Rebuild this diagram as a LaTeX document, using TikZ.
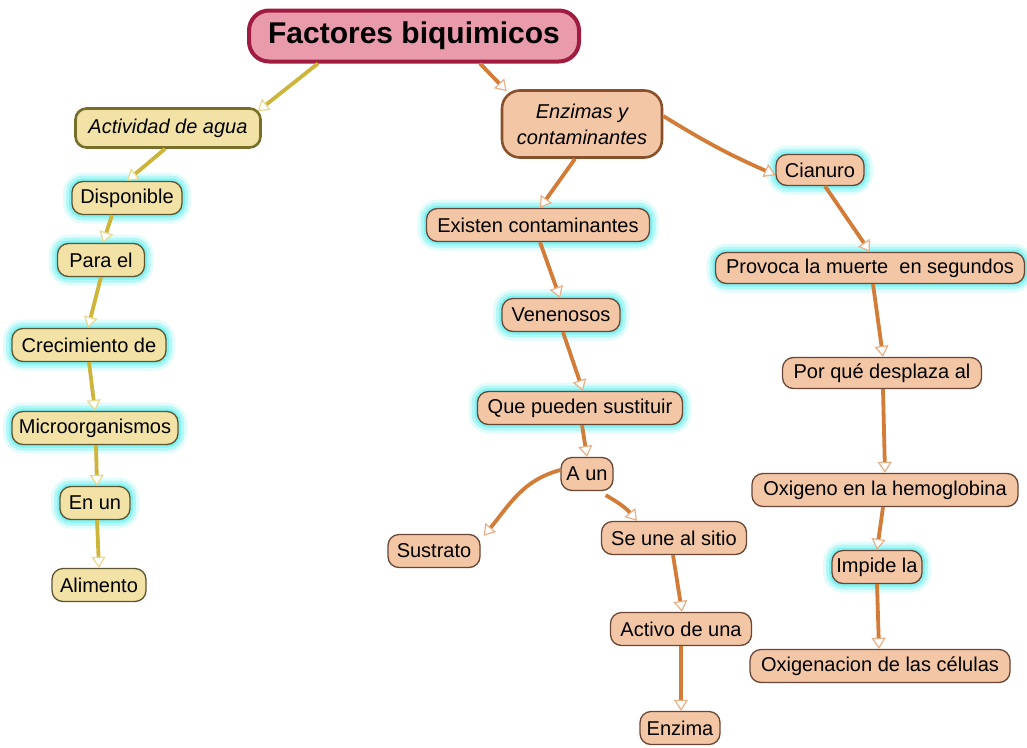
\documentclass[tikz,border=0pt]{standalone}
\usepackage{fontspec}
\setmainfont{Liberation Sans}
\usetikzlibrary{arrows.meta}
\definecolor{yfill}{HTML}{F2E2A6}
\definecolor{ydraw}{HTML}{5E5530}
\definecolor{ofill}{HTML}{F3C7A5}
\definecolor{odraw}{HTML}{6A4636}
\definecolor{tfill}{HTML}{E99AAB}
\definecolor{tdraw}{HTML}{9E1C40}
\definecolor{yline}{HTML}{CDB53A}
\definecolor{oline}{HTML}{D27C38}
\definecolor{ytip}{HTML}{E8D890}
\definecolor{otip}{HTML}{E8B088}
\definecolor{glowc}{HTML}{6FF0F0}
\tikzset{
  box/.style={draw, rounded corners=11pt, minimum height=33pt, inner xsep=4pt, inner ysep=2pt,
    font=\fontsize{20}{22}\selectfont, line width=1.3pt, align=center},
  ybox/.style={box, fill=yfill, draw=ydraw},
  obox/.style={box, fill=ofill, draw=odraw},
  glow/.style={preaction={draw=glowc, line width=18pt, opacity=0.2},
               preaction={draw=glowc, line width=12pt, opacity=0.4},
               preaction={draw=glowc, line width=6pt, opacity=0.7}},
  yedge/.style={draw=yline, line width=3.8pt, -{Triangle[open, length=11pt, width=14pt, line width=1.2pt, color=ytip, fill=white]}},
  oedge/.style={draw=oline, line width=3.8pt, -{Triangle[open, length=11pt, width=14pt, line width=1.2pt, color=otip, fill=white]}},
}
\begin{document}
\begin{tikzpicture}[x=1pt,y=-1pt]
\useasboundingbox[fill=white] (0,0) rectangle (1027,747);
% title
\node[draw=tdraw, fill=tfill, line width=4pt, rounded corners=20pt, minimum width=330pt, minimum height=51pt,
      font=\fontsize{30}{34}\selectfont\bfseries] (t) at (414,36) {Factores biquimicos};
% left branch
\node[ybox, line width=2.6pt, draw=ydraw!85!yellow, minimum width=185pt, minimum height=39pt, font=\fontsize{20}{22}\selectfont\itshape] (act) at (168,128) {Actividad de agua};
\node[ybox, glow, minimum width=110pt] (disp) at (127,198) {Disponible};
\node[ybox, glow, minimum width=87pt] (para) at (101,260) {Para el};
\node[ybox, glow, minimum width=154pt] (crec) at (89,345) {Crecimiento de};
\node[ybox, glow, minimum width=166pt] (micro) at (95,428) {Microorganismos};
\node[ybox, glow, minimum width=70pt] (enun) at (95,503) {En un};
\node[ybox, minimum width=94pt] (alim) at (99,585) {Alimento};
% middle branch
\node[obox, line width=2.6pt, draw=odraw!80!orange, minimum width=160pt, minimum height=67pt, rounded corners=18pt,
      font=\fontsize{20}{26}\selectfont\itshape] (enz) at (582,124) {Enzimas y\\contaminantes};
\node[obox, glow, minimum width=223pt] (exist) at (538,225) {Existen contaminantes};
\node[obox, glow, minimum width=118pt] (ven) at (561,315) {Venenosos};
\node[obox, glow, minimum width=205pt] (que) at (580,408) {Que pueden sustituir};
\node[obox, minimum width=52pt] (aun) at (587,474) {A un};
\node[obox, minimum width=92pt] (sust) at (434,551) {Sustrato};
\node[obox, minimum width=145pt] (seune) at (674,538) {Se une al sitio};
\node[obox, minimum width=141pt] (activo) at (681,629) {Activo de una};
\node[obox, minimum width=80pt] (enzima) at (680,728) {Enzima};
% right branch
\node[obox, glow, minimum width=88pt, minimum height=31pt] (cian) at (820,170) {Cianuro};
\node[obox, glow, minimum width=309pt, minimum height=31pt] (prov) at (870,268) {Provoca la muerte\ \ en segundos};
\node[obox, minimum width=199pt, minimum height=31pt] (por) at (882,373) {Por qué desplaza al};
\node[obox, minimum width=266pt] (oxi) at (885,490) {Oxigeno en la hemoglobina};
\node[obox, glow, minimum width=90pt] (imp) at (877,567) {Impide la};
\node[obox, minimum width=260pt] (oxig) at (880,666) {Oxigenacion de las células};
% connectors left
\draw[yedge] ([xshift=-96pt]t.south) -- ([xshift=-4pt,yshift=-4pt]act.north east);
\draw[yedge] ([xshift=-3pt]act.south) -- (disp.north);
\draw[yedge] ([xshift=-15pt]disp.south) -- ([xshift=2pt]para.north);
\draw[yedge] (para.south) -- ([xshift=-1pt]crec.north);
\draw[yedge] (crec.south) -- (micro.north);
\draw[yedge] ([xshift=1pt]micro.south) -- ([xshift=2pt]enun.north);
\draw[yedge] ([xshift=2pt]enun.south) -- (alim.north);
% connectors middle
\draw[oedge] ([xshift=66pt]t.south) -- ([xshift=6pt,yshift=-2pt]enz.north west);
\draw[oedge] ([xshift=-7pt]enz.south) -- ([xshift=2pt]exist.north);
\draw[oedge] ([yshift=8pt]enz.east) to[bend right=4] ([yshift=-5pt]cian.west);
\draw[oedge] ([xshift=2pt]exist.south) -- ([xshift=-1pt]ven.north);
\draw[oedge] ([xshift=2pt]ven.south) -- ([xshift=3pt]que.north);
\draw[oedge] ([xshift=2pt]que.south) -- (aun.north);
\draw[oedge] ([yshift=4pt]aun.west) to[out=195,in=50] ([xshift=3pt,yshift=-2pt]sust.north east);
\draw[oedge] ([xshift=-8pt,yshift=-4pt]aun.south east) to[bend left=10] ([xshift=-37pt]seune.north);
\draw[oedge] ([xshift=-1pt]seune.south) -- ([xshift=1pt]activo.north);
\draw[oedge] (activo.south) -- ([xshift=1pt]enzima.north);
% connectors right
\draw[oedge] ([xshift=5pt]cian.south) -- (prov.north);
\draw[oedge] ([xshift=3pt]prov.south) -- ([xshift=1pt]por.north);
\draw[oedge] ([xshift=1pt]por.south) -- (oxi.north);
\draw[oedge] ([xshift=-2pt]oxi.south) -- (imp.north);
\draw[oedge] (imp.south) -- ([xshift=-1pt]oxig.north);
\end{tikzpicture}
\end{document}
